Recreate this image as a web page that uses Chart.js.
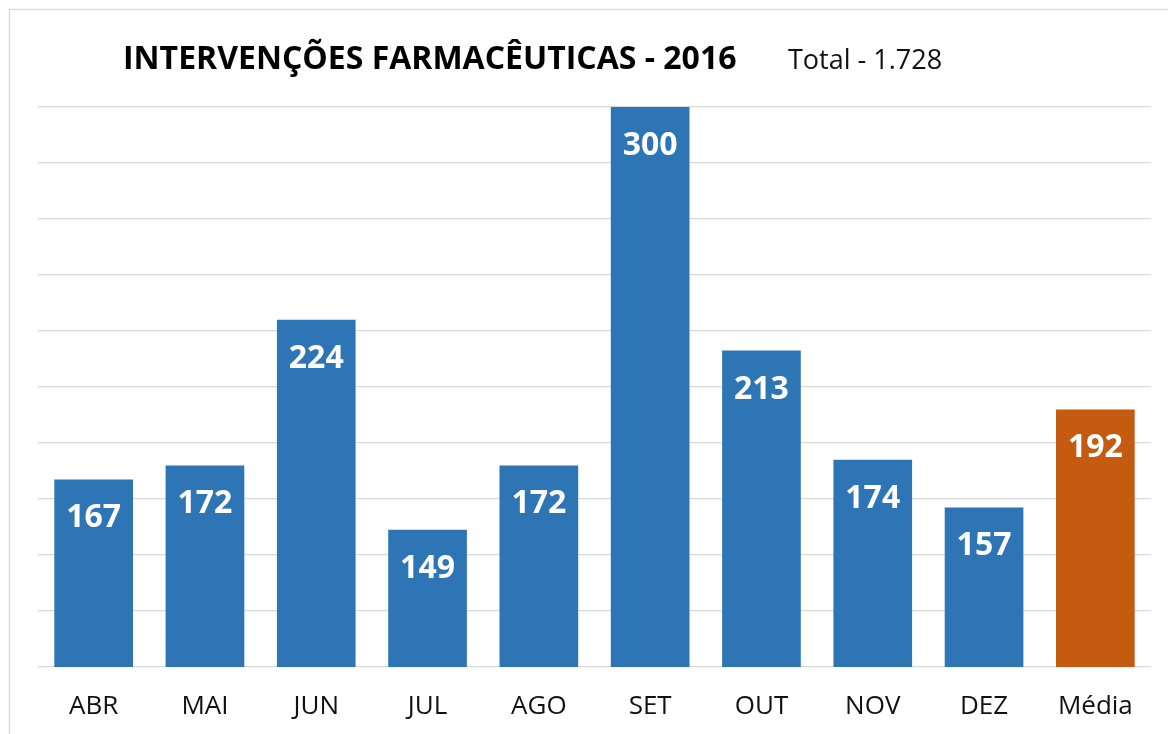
<!DOCTYPE html>
<html>
<head>
<meta charset="utf-8">
<script src="https://cdn.jsdelivr.net/npm/chart.js@4"></script>
<style>
  html, body { margin: 0; padding: 0; background: #fff; }
  canvas { display: block; }
</style>
</head>
<body>
<canvas id="chartCanvas" width="1168" height="734"></canvas>
<script>
// chart data
var categories = ['ABR', 'MAI', 'JUN', 'JUL', 'AGO', 'SET', 'OUT', 'NOV', 'DEZ', 'Média'];
var values = [167, 172, 224, 149, 172, 300, 213, 174, 157, 192];
var titleText = 'INTERVENÇÕES FARMACÊUTICAS - 2016';
var totalText = 'Total - 1.728';

var blue = '#2E75B6';
var orange = '#C55A11';
var barColors = categories.map(function(c) { return c === 'Média' ? orange : blue; });

// frame + title, drawn before the chart
var headerPlugin = {
    id: 'header',
    beforeDraw: function(chart) {
        var c = chart.ctx;
        c.save();
        c.strokeStyle = '#d9d9d9';
        c.lineWidth = 1.5;
        c.beginPath();
        c.moveTo(9.5, 740);
        c.lineTo(9.5, 9.5);
        c.lineTo(1170, 9.5);
        c.stroke();

        c.fillStyle = '#000';
        c.textBaseline = 'alphabetic';
        c.textAlign = 'left';
        c.font = 'bold 32px "Open Sans"';
        c.fillText(titleText, 123, 69);
        c.font = '27px "Open Sans"';
        c.fillStyle = '#111';
        c.fillText(totalText, 788, 69);
        c.restore();
    }
};

// white value labels inside the bars
var valueLabels = {
    id: 'valueLabels',
    afterDatasetsDraw: function(chart) {
        var c = chart.ctx;
        var meta = chart.getDatasetMeta(0);
        c.save();
        c.fillStyle = '#fff';
        c.font = 'bold 32px "Open Sans"';
        c.textAlign = 'center';
        c.textBaseline = 'alphabetic';
        meta.data.forEach(function(bar, i) {
            c.fillText(values[i], bar.x, bar.y + 48);
        });
        c.restore();
    }
};

var ctx = document.getElementById('chartCanvas');
var myChart = new Chart(ctx, {
    type: 'bar',
    data: {
        labels: categories,
        datasets: [{
            data: values,
            backgroundColor: barColors,
            borderWidth: 0,
            categoryPercentage: 1,
            barPercentage: 0.707
        }]
    },
    options: {
        responsive: false,
        animation: false,
        layout: {
            padding: { left: 38, right: 17, top: 107, bottom: 0 }
        },
        scales: {
            x: {
                grid: { display: false },
                border: { display: false },
                ticks: {
                    color: '#111',
                    font: { family: 'Open Sans', size: 26 },
                    padding: 16
                },
                afterFit: function(s) { s.height = 67; }
            },
            y: {
                min: 100,
                max: 300,
                ticks: { display: false, stepSize: 20 },
                grid: { color: '#d9d9d9', lineWidth: 1.3, drawTicks: false },
                border: { display: false },
                afterFit: function(s) { s.width = 0; }
            }
        },
        plugins: {
            legend: { display: false },
            tooltip: { enabled: false }
        }
    },
    plugins: [headerPlugin, valueLabels]
});
</script>
</body>
</html>
